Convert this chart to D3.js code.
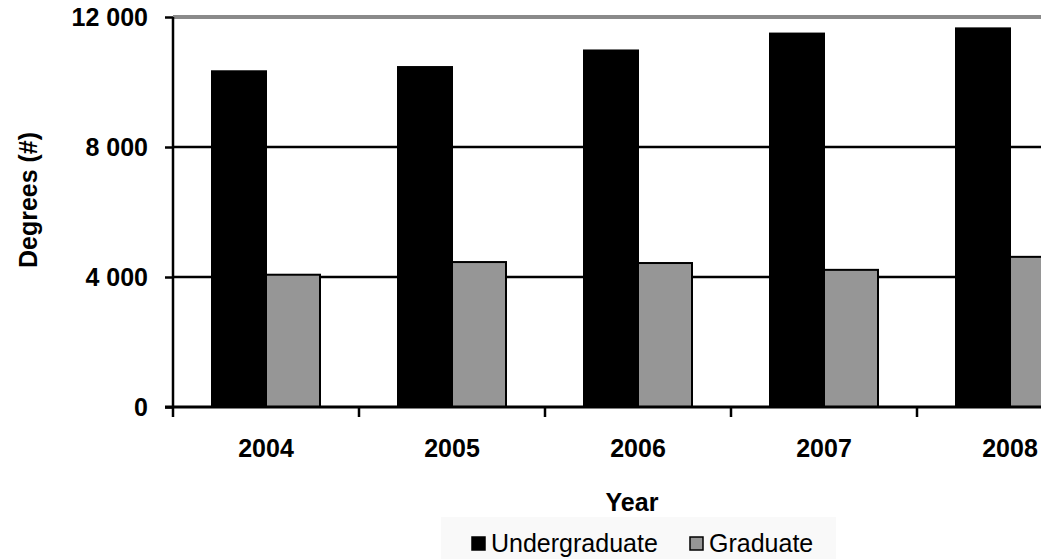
<!DOCTYPE html>
<html>
<head>
<meta charset="utf-8">
<script src="https://cdn.jsdelivr.net/npm/d3@7"></script>
<style>
  html, body { margin: 0; padding: 0; background: #fff; }
  svg { display: block; font-family: "Liberation Sans", Arial, sans-serif; }
</style>
</head>
<body>
<svg id="chart" width="1041" height="559"></svg>
<script>
const years = ["2004", "2005", "2006", "2007", "2008"];
const seriesNames = ["Undergraduate", "Graduate"];
const undergraduate = [10330, 10460, 10970, 11490, 11650];
const graduate = [4070, 4460, 4430, 4220, 4620];
const yTicks = [0, 4000, 8000, 12000];
const tickLabels = ["0", "4 000", "8 000", "12 000"];
const colors = ["#000000", "#969696"];

(function () {
const svg = d3.select("#chart");
const plotLeft = 173, plotTop = 17, plotBottom = 407, bandW = 186;
const plotRight = plotLeft + bandW * years.length;

const y = d3.scaleLinear().domain([0, 12000]).range([plotBottom, plotTop]);
const x = d3.scaleBand().domain(years).range([plotLeft, plotRight]).padding(0);
const xs = d3.scaleBand().domain(seriesNames).range([39, 39 + 108]).padding(0);

// gridlines
svg.append("g").selectAll("line").data(yTicks.filter(d => d > 0)).join("line")
  .attr("x1", plotLeft).attr("x2", 1041)
  .attr("y1", d => y(d)).attr("y2", d => y(d))
  .attr("stroke", d => d === 12000 ? "#8a8a8a" : "#000")
  .attr("stroke-width", d => d === 12000 ? 4 : 2.5);

// bars
const data = years.map((yr, i) => ({ year: yr, vals: [undergraduate[i], graduate[i]] }));
const g = svg.append("g").selectAll("g").data(data).join("g")
  .attr("transform", d => `translate(${x(d.year)},0)`);
g.selectAll("rect").data(d => d.vals.map((v, j) => ({ v, s: seriesNames[j], j }))).join("rect")
  .attr("x", d => xs(d.s))
  .attr("width", xs.bandwidth())
  .attr("y", d => y(d.v))
  .attr("height", d => plotBottom - y(d.v))
  .attr("fill", d => colors[d.j])
  .attr("stroke", "#000")
  .attr("stroke-width", 2);

// y axis
const yAxis = d3.axisLeft(y).tickValues(yTicks).tickSize(8).tickFormat((d, i) => tickLabels[i]);
const ya = svg.append("g").attr("transform", `translate(${plotLeft},0)`).call(yAxis);
ya.select(".domain").attr("stroke", "#000").attr("stroke-width", 2.5).attr("d", `M0,${plotTop}V${plotBottom}`);
ya.selectAll(".tick line").attr("stroke", "#000").attr("stroke-width", 2.5);
ya.selectAll(".tick text").attr("x", -25).attr("font-size", 25).attr("font-weight", "bold")
  .attr("font-family", "Liberation Sans, Arial, sans-serif").attr("fill", "#000");

// x axis
const xa = svg.append("g").attr("transform", `translate(0,${plotBottom})`);
xa.append("line").attr("x1", plotLeft - 8).attr("x2", 1041).attr("y1", 0).attr("y2", 0)
  .attr("stroke", "#000").attr("stroke-width", 3);
xa.selectAll("line.tk").data(years.concat(["end"])).join("line").attr("class", "tk")
  .attr("x1", (d, i) => plotLeft + i * x.step()).attr("x2", (d, i) => plotLeft + i * x.step())
  .attr("y1", 0).attr("y2", 10).attr("stroke", "#000").attr("stroke-width", 2.5);
xa.selectAll("text").data(years).join("text")
  .attr("x", d => x(d) + x.bandwidth() / 2).attr("y", 50)
  .attr("text-anchor", "middle").attr("font-size", 25).attr("font-weight", "bold")
  .text(d => d);

// axis titles
svg.append("text").attr("x", 632).attr("y", 511).attr("text-anchor", "middle")
  .attr("font-size", 25).attr("font-weight", "bold").text("Year");
svg.append("text").attr("transform", "translate(37,200) rotate(-90)").attr("text-anchor", "middle")
  .attr("font-size", 25).attr("font-weight", "bold").text("Degrees (#)");

// legend
svg.append("rect").attr("x", 441).attr("y", 517).attr("width", 395).attr("height", 42).attr("fill", "#f9f9f9");
const legX = [472, 690];
const lg = svg.append("g").selectAll("g").data(seriesNames).join("g")
  .attr("transform", (d, i) => `translate(${legX[i]},537)`);
lg.append("rect").attr("width", 13).attr("height", 13).attr("fill", (d, i) => colors[i])
  .attr("stroke", "#000").attr("stroke-width", 1.5);
lg.append("text").attr("x", 19).attr("y", 15).attr("font-size", 25).text(d => d);
})();
</script>
</body>
</html>
